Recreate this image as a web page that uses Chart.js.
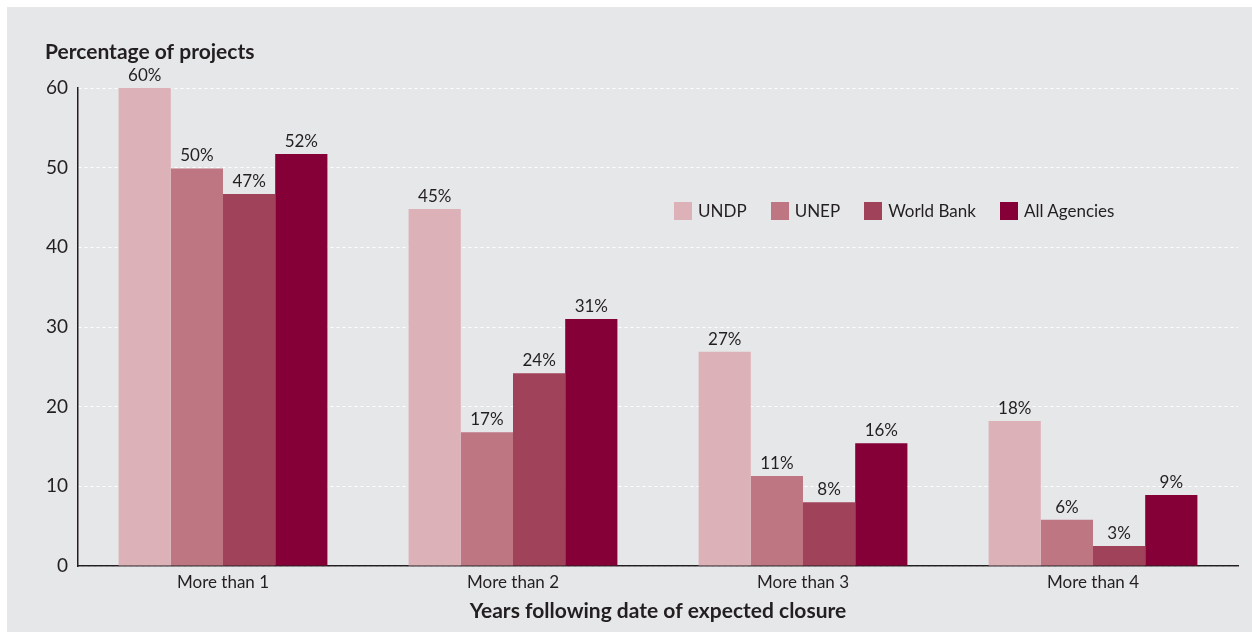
<!DOCTYPE html>
<html>
<head>
<meta charset="utf-8">
<script src="https://cdn.jsdelivr.net/npm/chart.js@4.4.0/dist/chart.umd.min.js"></script>
<style>
    html, body { margin: 0; padding: 0; background: #ffffff; }
    #frame {
        position: absolute; left: 7px; top: 7px;
        width: 1245px; height: 625px;
        background: #e6e7e9;
    }
    #legend {
        position: absolute; left: 667px; top: 193px;
        display: flex; align-items: center;
        font-family: Lato, 'Noto Sans', sans-serif; font-size: 17px; color: #231f20;
    }
    .item { display: flex; align-items: center; margin-right: 24px; }
    .box { width: 18px; height: 18px; margin-right: 6px; }
</style>
</head>
<body>
<div id="frame">
    <canvas id="chart" width="1245" height="625"></canvas>
    <div id="legend"></div>
</div>
<script>
// データ
const categories = ['More than 1', 'More than 2', 'More than 3', 'More than 4'];
const seriesNames = ['UNDP', 'UNEP', 'World Bank', 'All Agencies'];
const undpValues = [60, 44.8, 26.9, 18.2];
const unepValues = [49.9, 16.8, 11.3, 5.8];
const worldBankValues = [46.7, 24.2, 8.0, 2.5];
const allAgenciesValues = [51.7, 31.0, 15.4, 8.9];
const undpLabels = ['60%', '45%', '27%', '18%'];
const unepLabels = ['50%', '17%', '11%', '6%'];
const worldBankLabels = ['47%', '24%', '8%', '3%'];
const allAgenciesLabels = ['52%', '31%', '16%', '9%'];
const yTicks = [0, 10, 20, 30, 40, 50, 60];
const colors = ['#dcb2b8', '#bd7682', '#a0435a', '#850036'];

const fontFamily = "Lato, 'Noto Sans', sans-serif";
const textColor = '#231f20';

const valueSets = [undpValues, unepValues, worldBankValues, allAgenciesValues];
const labelSets = [undpLabels, unepLabels, worldBankLabels, allAgenciesLabels];

// 棒の上にラベルを描く
const valueLabelPlugin = {
    id: 'valueLabels',
    afterDatasetsDraw(chart) {
        const ctx = chart.ctx;
        ctx.save();
        ctx.font = '17px ' + fontFamily;
        ctx.fillStyle = textColor;
        ctx.textAlign = 'center';
        ctx.textBaseline = 'bottom';
        chart.data.datasets.forEach((ds, i) => {
            chart.getDatasetMeta(i).data.forEach((bar, j) => {
                ctx.fillText(labelSets[i][j], bar.x, bar.y - 4);
            });
        });
        ctx.restore();
    }
};

// 縦軸タイトル（左上に横書き）
const yTitlePlugin = {
    id: 'yTitle',
    afterDraw(chart) {
        const ctx = chart.ctx;
        ctx.save();
        ctx.font = 'bold 21px ' + fontFamily;
        ctx.fillStyle = textColor;
        ctx.textAlign = 'left';
        ctx.textBaseline = 'middle';
        ctx.fillText('Percentage of projects', 38, 45);
        ctx.restore();
    }
};

const ctx = document.getElementById('chart').getContext('2d');
const chart = new Chart(ctx, {
    type: 'bar',
    data: {
        labels: categories,
        datasets: seriesNames.map((name, i) => ({
            label: name,
            data: valueSets[i],
            backgroundColor: colors[i],
            borderWidth: 0,
            barPercentage: 1,
            categoryPercentage: 0.72
        }))
    },
    options: {
        responsive: false,
        animation: false,
        layout: { padding: { top: 81, right: 14, left: 0, bottom: 0 } },
        plugins: {
            legend: { display: false },
            tooltip: { enabled: false }
        },
        scales: {
            x: {
                grid: { display: false, drawTicks: false },
                border: { display: true, color: textColor, width: 1.5 },
                ticks: {
                    color: textColor,
                    font: { family: fontFamily, size: 17 },
                    padding: 6
                },
                title: {
                    display: true,
                    text: 'Years following date of expected closure',
                    color: textColor,
                    font: { family: fontFamily, size: 21, weight: 'bold' },
                    padding: { top: 4, bottom: 8 }
                },
                afterFit(scale) { scale.height = 66; }
            },
            y: {
                min: 0,
                max: 60,
                afterBuildTicks(scale) {
                    scale.ticks = yTicks.map(v => ({ value: v }));
                },
                grid: {
                    color: '#ffffff',
                    lineWidth: 1,
                    drawTicks: false
                },
                border: { display: true, color: textColor, width: 1.5, dash: [3, 3] },
                ticks: {
                    color: textColor,
                    font: { family: fontFamily, size: 19 },
                    padding: 10
                },
                afterFit(scale) { scale.width = 71; }
            }
        }
    },
    plugins: [valueLabelPlugin, yTitlePlugin]
});

// 凡例（グラフ内）
const legend = document.getElementById('legend');
seriesNames.forEach((name, i) => {
    const item = document.createElement('div');
    item.className = 'item';
    item.innerHTML = '<span class="box" style="background:' + colors[i] + '"></span>' + name;
    legend.appendChild(item);
});
</script>
</body>
</html>
